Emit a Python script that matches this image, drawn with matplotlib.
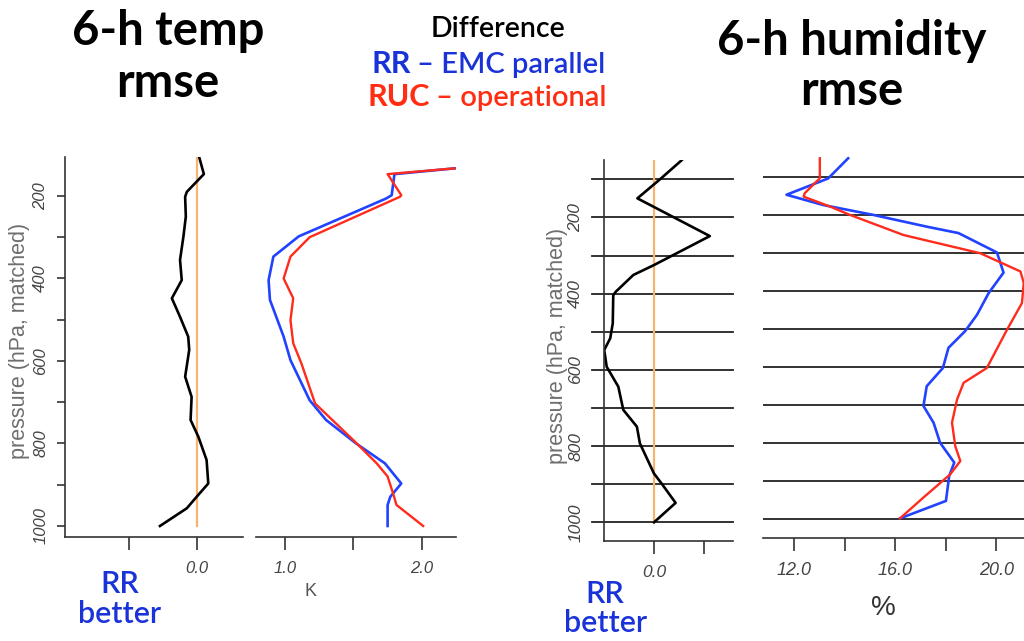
import matplotlib
matplotlib.use("Agg")
import matplotlib.pyplot as plt

# ---------------- data ----------------
# temperature rmse difference (RR - RUC), K
temp_diff_p = [105, 147, 165, 190, 202, 250, 298, 355, 404, 448, 493, 541, 573, 638, 687, 743, 784, 840, 897, 929, 957, 1000]
temp_diff_v = [0.006, 0.02, -0.001, -0.03, -0.035, -0.033, -0.04, -0.05, -0.045, -0.074, -0.05, -0.026, -0.023, -0.035, -0.016, -0.019, 0.004, 0.028, 0.033, -0.001, -0.03, -0.109]

# temperature rmse, K
temp_rr_p = [133, 147, 198, 206, 298, 347, 404, 452, 541, 598, 695, 743, 800, 848, 897, 929, 949, 1000]
temp_rr_v = [2.24, 1.80, 1.78, 1.74, 1.10, 0.915, 0.88, 0.89, 0.99, 1.04, 1.18, 1.30, 1.52, 1.73, 1.85, 1.77, 1.75, 1.75]
temp_ruc_p = [133, 147, 198, 202, 300, 347, 400, 448, 501, 557, 606, 703, 792, 848, 880, 921, 949, 1000]
temp_ruc_v = [2.24, 1.75, 1.85, 1.84, 1.18, 1.04, 0.99, 1.06, 1.04, 1.06, 1.12, 1.22, 1.50, 1.67, 1.75, 1.79, 1.815, 2.01]

# humidity rmse difference (RR - RUC), %
rh_diff_p = [50, 100, 150, 249, 325, 351, 395, 404, 478, 517, 548, 592, 644, 705, 749, 793, 872, 898, 949, 1000]
rh_diff_v = [0.55, 0.12, -0.33, 1.11, 0.0, -0.41, -0.76, -0.81, -0.82, -0.87, -0.99, -0.94, -0.71, -0.61, -0.34, -0.28, 0.0, 0.15, 0.43, 0.0]

# humidity rmse, %
rh_rr_p = [50, 103, 146, 173, 199, 230, 247, 298, 351, 405, 462, 505, 549, 602, 650, 702, 746, 799, 851, 886, 952, 998]
rh_rr_v = [14.14, 13.35, 11.7, 13.15, 15.13, 17.25, 18.51, 20.03, 20.29, 19.70, 19.24, 18.77, 18.11, 17.89, 17.25, 17.12, 17.52, 17.78, 18.34, 18.14, 18.01, 16.19]
rh_ruc_p = [50, 103, 111, 142, 151, 177, 199, 252, 300, 348, 378, 431, 501, 602, 641, 685, 746, 808, 847, 882, 943, 998]
rh_ruc_v = [13.02, 13.02, 12.89, 12.42, 12.38, 13.42, 14.21, 16.33, 19.37, 20.96, 21.09, 21.02, 20.43, 19.63, 18.71, 18.45, 18.25, 18.38, 18.58, 18.18, 17.12, 16.19]

p_ticks_major = [200, 300, 400, 500, 600, 700, 800, 900, 1000]
p_labels = ['200', '', '400', '', '600', '', '800', '', '1000']
hum_levels = [100, 200, 300, 400, 500, 600, 700, 800, 900, 1000]

# ---------------- style ----------------
W, H = 1024, 641
BLUE_LINE = '#2143FF'
RED_LINE = '#FF2B1C'
BLUE_TXT = '#1A33D8'
RED_TXT = '#FF2D12'
ORANGE = '#F7B46E'
SPINE = '#333333'
TICKLAB = '#444444'

fig = plt.figure(figsize=(W / 100, H / 100), dpi=100)


def rect(x0, y0, x1, y1):
    return [x0 / W, 1 - y1 / H, (x1 - x0) / W, (y1 - y0) / H]


def fx(x):
    return x / W


def fy(y):
    return 1 - y / H


tick_font = dict(family='Liberation Sans', style='italic', color=TICKLAB)


def style_axes(ax, left=True):
    for s in ['top', 'right']:
        ax.spines[s].set_visible(False)
    ax.spines['left'].set_visible(left)
    for s in ['left', 'bottom']:
        ax.spines[s].set_color(SPINE)
        ax.spines[s].set_linewidth(1.2)
    ax.tick_params(axis='x', direction='out', length=9, width=1.2, color=SPINE, pad=8)
    ax.tick_params(axis='y', direction='out', length=6, width=1.2, color=SPINE, pad=6)
    if not left:
        ax.tick_params(axis='y', left=False, labelleft=False)
    ax.patch.set_alpha(0)


# ---- panel 1: temp difference ----
ax1 = fig.add_axes(rect(65, 157, 243, 537))
ax1.set_xlim(-0.388, 0.135)
ax1.set_ylim(1026.7, 105.5)
ax1.plot([0, 0], [1000, 105.5], color=ORANGE, lw=1.6)
ax1.plot(temp_diff_v, temp_diff_p, color='black', lw=1.9)
style_axes(ax1)
ax1.set_xticks([-0.2, 0.0])
ax1.set_xticklabels(['', '0.0'], fontsize=12, **tick_font)
ax1.set_yticks(p_ticks_major)
ax1.set_yticklabels(p_labels, fontsize=12, rotation=90, va='center', **tick_font)

# ---- panel 2: temp rmse ----
ax2 = fig.add_axes(rect(256, 157, 456, 537))
ax2.set_xlim(0.788, 2.25)
ax2.set_ylim(1026.7, 105.5)
ax2.plot(temp_rr_v, temp_rr_p, color=BLUE_LINE, lw=1.9, clip_on=False)
ax2.plot(temp_ruc_v, temp_ruc_p, color=RED_LINE, lw=1.7, clip_on=False)
style_axes(ax2, left=False)
ax2.set_xticks([1.0, 1.5, 2.0])
ax2.set_xticklabels(['1.0', '', '2.0'], fontsize=12, **tick_font)

# ---- panel 3: humidity difference ----
ax3 = fig.add_axes(rect(604, 160, 733, 541))
ax3.set_xlim(-0.994, 1.571)
ax3.set_ylim(1049, 49.4)
for lv in hum_levels:
    ax3.axhline(lv, xmin=-0.095, xmax=1.0, color='#222222', lw=1.3, clip_on=False)
ax3.plot([0, 0], [1000, 49.4], color=ORANGE, lw=1.6)
ax3.plot(rh_diff_v, rh_diff_p, color='black', lw=1.9)
style_axes(ax3)
ax3.tick_params(axis='y', length=0)
ax3.set_xticks([0.0, 1.0])
ax3.set_xticklabels(['0.0', ''], fontsize=12.5, **tick_font)
ax3.set_yticks(p_ticks_major)
ax3.set_yticklabels(p_labels, fontsize=12.5, rotation=90, va='center', **tick_font)
ax3.tick_params(axis='y', pad=15)

# ---- panel 4: humidity rmse ----
ax4 = fig.add_axes(rect(763, 156, 1024, 538))
ax4.set_xlim(10.77, 21.1)
ax4.set_ylim(1049.6, 44)
for lv in hum_levels:
    ax4.axhline(lv, color='#222222', lw=1.3)
ax4.plot(rh_rr_v, rh_rr_p, color=BLUE_LINE, lw=1.9)
ax4.plot(rh_ruc_v, rh_ruc_p, color=RED_LINE, lw=1.7)
style_axes(ax4, left=False)
ax4.set_xticks([12, 14, 16, 18, 20])
ax4.set_xticklabels(['12.0', '', '16.0', '', '20.0'], fontsize=13, **tick_font)

# ---- axis labels ----
lab_font = dict(family='Liberation Sans', color='#6E6E6E', fontsize=15.5)
fig.text(fx(20), fy(341), 'pressure (hPa, matched)', rotation=90, ha='center', va='center', **lab_font)
fig.text(fx(558), fy(346), 'pressure (hPa, matched)', rotation=90, ha='center', va='center', **lab_font)
fig.text(fx(310), fy(592), 'K', ha='center', va='center', family='Liberation Sans', color='#555555', fontsize=13)
fig.text(fx(883), fy(608), '%', ha='center', va='center', family='Liberation Sans', color='#333333', fontsize=20)

# ---- titles ----
title_font = dict(family='Lato', weight='bold', color='black', fontsize=34)
fig.text(fx(168), fy(45), '6-h temp', ha='center', va='baseline', **title_font)
fig.text(fx(168), fy(97), 'rmse', ha='center', va='baseline', **title_font)
fig.text(fx(852), fy(55), '6-h humidity', ha='center', va='baseline', **title_font)
fig.text(fx(852), fy(105), 'rmse', ha='center', va='baseline', **title_font)

# ---- centre legend text ----
fig.text(fx(498), fy(37), 'Difference', ha='center', va='baseline', family='Lato', weight='semibold', fontsize=20.5, color='black')
fig.text(fx(411), fy(73), 'RR', ha='right', va='baseline', family='Lato', weight='bold', fontsize=22, color=BLUE_TXT)
fig.text(fx(417), fy(73), '\u2013 EMC parallel', ha='left', va='baseline', family='Lato', weight='semibold', fontsize=21, color=BLUE_TXT)
fig.text(fx(430), fy(106), 'RUC', ha='right', va='baseline', family='Lato', weight='bold', fontsize=22, color=RED_TXT)
fig.text(fx(436), fy(106), '\u2013 operational', ha='left', va='baseline', family='Lato', weight='semibold', fontsize=21, color=RED_TXT)

# ---- RR better ----
better_font = dict(family='Lato', weight='semibold', color=BLUE_TXT, fontsize=22, ha='center', va='baseline')
fig.text(fx(120), fy(593), 'RR', **better_font)
fig.text(fx(120), fy(623), 'better', **better_font)
fig.text(fx(605), fy(603), 'RR', **better_font)
fig.text(fx(606), fy(632), 'better', **better_font)

fig.savefig('out.png', dpi=100)
